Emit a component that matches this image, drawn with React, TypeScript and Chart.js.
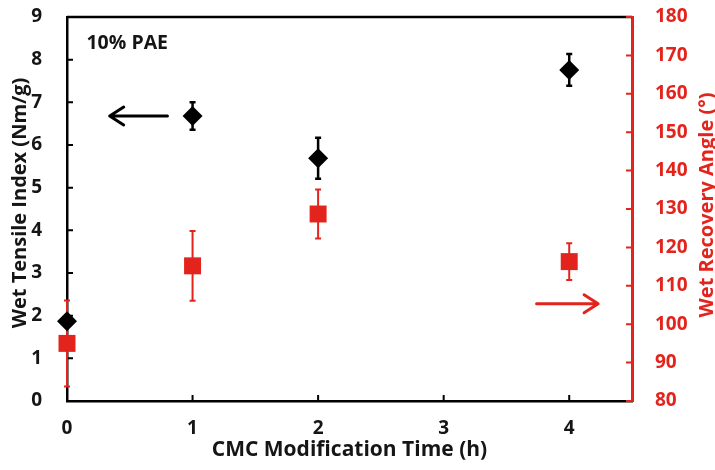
import React, { useEffect, useRef } from 'react';
import { Chart, registerables } from 'chart.js';

Chart.register(...registerables);

// ---- data ----
const times = [0, 1, 2, 4];
const tensile = [1.87, 6.68, 5.69, 7.76];
const tensileErr = [0.12, 0.32, 0.48, 0.37];
const angle = [95.0, 115.2, 128.7, 116.3];
const angleErr = [11.2, 9.1, 6.4, 4.8];

const xTicks = [0, 1, 2, 3, 4];
const leftTicks = [0, 1, 2, 3, 4, 5, 6, 7, 8, 9];
const rightTicks = [80, 90, 100, 110, 120, 130, 140, 150, 160, 170, 180];

const xTitle = 'CMC Modification Time (h)';
const leftTitle = 'Wet Tensile Index (Nm/g)';
const rightTitle = 'Wet Recovery Angle (°)';
const noteText = '10% PAE';
const notePos = [0.155, 8.38];
// arrows: [x from, x to, y] (y in the axis the arrow refers to)
const blackArrow = [0.8, 0.34, 6.68];
const redArrow = [3.74, 4.23, 105.3];

const RED = '#e3241d';
const INK = '#151515';
const FONT = "'Open Sans', 'DejaVu Sans', sans-serif";

function drawArrow(ctx: CanvasRenderingContext2D, x1: number, x2: number, y: number, color: string) {
  ctx.save();
  ctx.strokeStyle = color;
  ctx.lineWidth = 3;
  ctx.lineCap = 'round';
  ctx.lineJoin = 'round';
  ctx.beginPath();
  ctx.moveTo(x1, y);
  ctx.lineTo(x2, y);
  const dir = x2 > x1 ? 1 : -1;
  ctx.moveTo(x2 - dir * 14, y - 9);
  ctx.lineTo(x2, y);
  ctx.lineTo(x2 - dir * 14, y + 9);
  ctx.stroke();
  ctx.restore();
}

function drawVertical(ctx: CanvasRenderingContext2D, text: string, cx: number, cy: number, color: string) {
  ctx.save();
  ctx.translate(cx, cy);
  ctx.rotate(-Math.PI / 2);
  ctx.fillStyle = color;
  ctx.font = `bold 20px ${FONT}`;
  ctx.textAlign = 'center';
  ctx.textBaseline = 'middle';
  ctx.fillText(text, 0, 0);
  ctx.restore();
}

const decor = {
  id: 'decor',
  beforeDatasetsDraw(chart: any) {
    const { ctx, chartArea, scales } = chart;
    const { left, right, top, bottom } = chartArea;
    const x = scales.x, y = scales.y, y1 = scales.y1;
    ctx.save();
    // top border
    ctx.strokeStyle = '#000';
    ctx.lineWidth = 2.5;
    ctx.beginPath();
    ctx.moveTo(left, top);
    ctx.lineTo(right, top);
    ctx.stroke();
    // inward ticks
    ctx.lineWidth = 2;
    ctx.beginPath();
    leftTicks.forEach(v => {
      const py = y.getPixelForValue(v);
      ctx.moveTo(left, py);
      ctx.lineTo(left + 6, py);
    });
    xTicks.forEach(v => {
      if (v === 0) return;
      const px = x.getPixelForValue(v);
      ctx.moveTo(px, bottom);
      ctx.lineTo(px, bottom - 6);
    });
    ctx.stroke();
    ctx.strokeStyle = RED;
    ctx.beginPath();
    rightTicks.forEach(v => {
      const py = y1.getPixelForValue(v);
      ctx.moveTo(right, py);
      ctx.lineTo(right - 6, py);
    });
    ctx.stroke();

    // error bars
    const drawErr = (vals: number[], errs: number[], scale: any, color: string, lw: number) => {
      ctx.strokeStyle = color;
      ctx.lineWidth = lw;
      ctx.beginPath();
      times.forEach((t, i) => {
        const px = x.getPixelForValue(t);
        const yt = scale.getPixelForValue(vals[i] + errs[i]);
        const yb = scale.getPixelForValue(vals[i] - errs[i]);
        ctx.moveTo(px, yt);
        ctx.lineTo(px, yb);
        ctx.moveTo(px - 3, yt);
        ctx.lineTo(px + 3, yt);
        ctx.moveTo(px - 3, yb);
        ctx.lineTo(px + 3, yb);
      });
      ctx.stroke();
    };
    drawErr(angle, angleErr, y1, RED, 2);
    drawErr(tensile, tensileErr, y, '#000', 2.5);
    ctx.restore();
  },
  afterDatasetsDraw(chart: any) {
    const { ctx, scales, chartArea } = chart;
    const x = scales.x, y = scales.y, y1 = scales.y1;
    ctx.save();
    ctx.fillStyle = INK;
    ctx.font = `bold 19.5px ${FONT}`;
    ctx.textAlign = 'left';
    ctx.textBaseline = 'middle';
    ctx.fillText(noteText, x.getPixelForValue(notePos[0]), y.getPixelForValue(notePos[1]));
    ctx.restore();
    drawArrow(ctx, x.getPixelForValue(blackArrow[0]), x.getPixelForValue(blackArrow[1]), y.getPixelForValue(blackArrow[2]), '#000');
    drawArrow(ctx, x.getPixelForValue(redArrow[0]), x.getPixelForValue(redArrow[1]), y1.getPixelForValue(redArrow[2]), RED);
    const midY = (chartArea.top + chartArea.bottom) / 2 - 6;
    drawVertical(ctx, leftTitle, y.left + 20, midY, INK);
    drawVertical(ctx, rightTitle, y1.right - 8, midY + 2, RED);
  },
};

export default function App() {
  const ref = useRef<HTMLCanvasElement>(null);
  useEffect(() => {
    if (!ref.current) return;
    const fitV = (w: number) => (s: any) => { s.width = w; s.paddingTop = 0; s.paddingBottom = 0; };
    const chart = new Chart(ref.current, {
      type: 'scatter',
      data: {
        datasets: [
          {
            label: 'Wet Tensile Index',
            data: times.map((t, i) => ({ x: t, y: tensile[i] })),
            yAxisID: 'y',
            pointStyle: 'rectRot',
            pointRadius: 10,
            pointHoverRadius: 10,
            backgroundColor: '#000',
            borderColor: '#000',
            borderWidth: 0,
            clip: false,
            order: 1,
          },
          {
            label: 'Wet Recovery Angle',
            data: times.map((t, i) => ({ x: t, y: angle[i] })),
            yAxisID: 'y1',
            pointStyle: 'rect',
            pointRadius: 12,
            pointHoverRadius: 12,
            backgroundColor: RED,
            borderColor: RED,
            borderWidth: 0,
            clip: false,
            order: 0,
          },
        ],
      },
      options: {
        responsive: false,
        animation: false,
        layout: { padding: { top: 17, left: 0, right: 0, bottom: 0 } },
        plugins: { legend: { display: false }, tooltip: { enabled: false } },
        scales: {
          x: {
            type: 'linear',
            min: 0,
            max: 4.5,
            afterBuildTicks: (s: any) => { s.ticks = xTicks.map(v => ({ value: v })); },
            afterFit: (s: any) => { s.height = 69; s.paddingLeft = 0; s.paddingRight = 0; },
            grid: { display: false },
            border: { display: true, color: '#000', width: 2.5 },
            ticks: { color: INK, font: { family: FONT, size: 19, weight: 'bold' }, padding: 8 },
            title: { display: true, text: xTitle, color: INK, font: { family: FONT, size: 21, weight: 'bold' }, padding: { top: 7, bottom: 7 } },
          },
          y: {
            type: 'linear',
            position: 'left',
            min: 0,
            max: 9,
            afterBuildTicks: (s: any) => { s.ticks = leftTicks.map(v => ({ value: v })); },
            afterFit: fitV(67),
            grid: { display: false },
            border: { display: true, color: '#000', width: 2.5 },
            ticks: { color: INK, font: { family: FONT, size: 19, weight: 'bold' }, padding: 17 },
            title: { display: false },
          },
          y1: {
            type: 'linear',
            position: 'right',
            min: 80,
            max: 180,
            afterBuildTicks: (s: any) => { s.ticks = rightTicks.map(v => ({ value: v })); },
            afterFit: fitV(83),
            grid: { display: false },
            border: { display: true, color: RED, width: 3 },
            ticks: { color: RED, font: { family: FONT, size: 19, weight: 'bold' }, padding: 15 },
            title: { display: false },
          },
        },
      },
      plugins: [decor],
    } as any);
    return () => chart.destroy();
  }, []);
  return (
    <div style={{ position: 'fixed', left: 0, top: 0, width: 715, height: 470, background: '#fff' }}>
      <canvas ref={ref} width={715} height={470} style={{ display: 'block' }} />
    </div>
  );
}
